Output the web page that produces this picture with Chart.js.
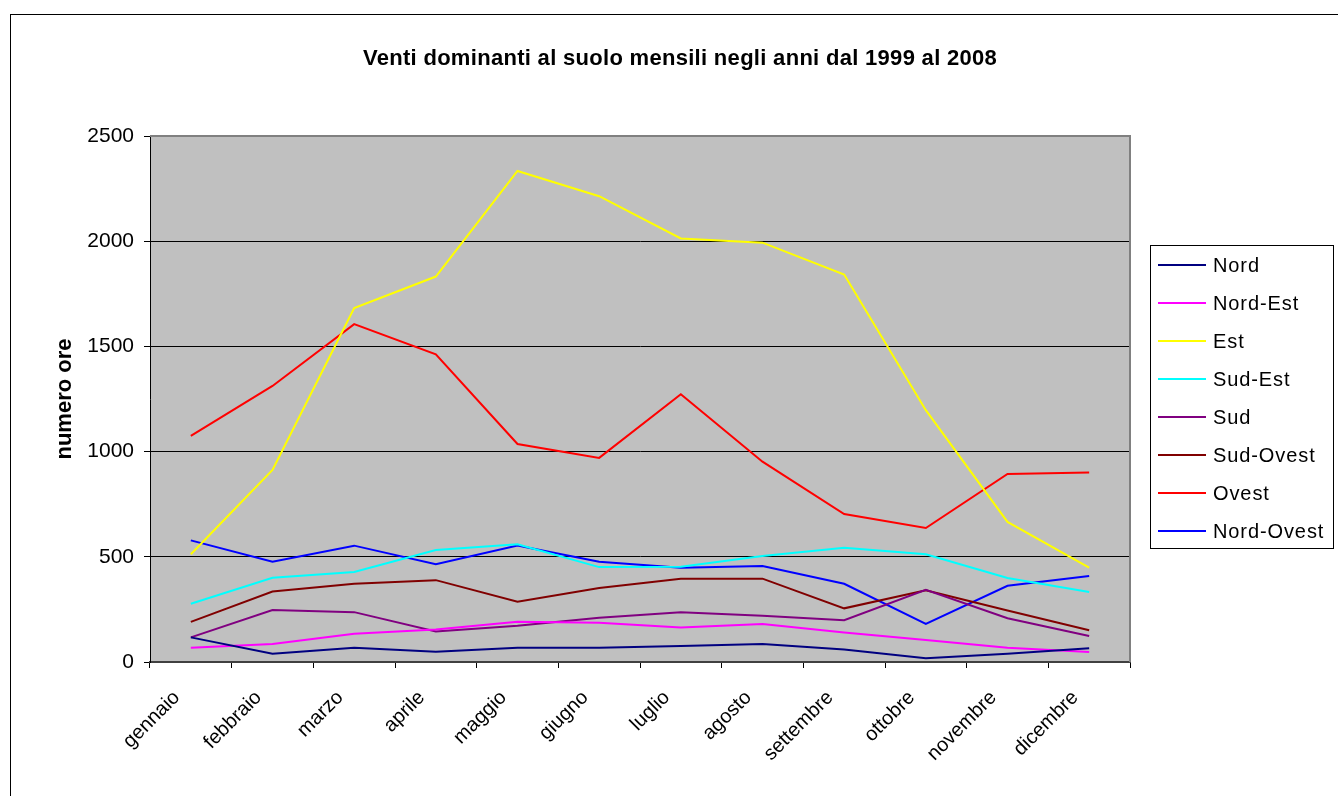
<!DOCTYPE html>
<html>
<head>
<meta charset="utf-8">
<script src="https://cdn.jsdelivr.net/npm/chart.js@4/dist/chart.umd.min.js"></script>
<style>
  html, body { margin: 0; padding: 0; background: #ffffff; }
  #wrap { position: relative; width: 1338px; height: 796px; }
</style>
</head>
<body>
<div id="wrap"><canvas id="c" width="1338" height="796"></canvas></div>
<script>
const chartTitle = "Venti dominanti al suolo mensili negli anni dal 1999 al 2008";
const yAxisTitle = "numero ore";
const months = ["gennaio","febbraio","marzo","aprile","maggio","giugno","luglio","agosto","settembre","ottobre","novembre","dicembre"];
const yTicks = [0, 500, 1000, 1500, 2000, 2500];

const seriesNames = ["Nord","Nord-Est","Est","Sud-Est","Sud","Sud-Ovest","Ovest","Nord-Ovest"];
const nord      = [117, 39, 68, 49, 68, 68, 76, 86, 59, 18, 39, 65];
const nordEst   = [68, 86, 134, 154, 191, 186, 164, 181, 140, 105, 68, 47];
const est       = [512, 913, 1682, 1832, 2334, 2214, 2013, 1993, 1842, 1197, 666, 448];
const sudEst    = [277, 400, 428, 532, 560, 451, 453, 504, 543, 512, 399, 333];
const sud       = [117, 247, 237, 145, 172, 210, 237, 220, 199, 343, 208, 124];
const sudOvest  = [191, 335, 372, 389, 286, 352, 396, 396, 255, 341, 245, 151];
const ovest     = [1075, 1312, 1606, 1462, 1036, 970, 1273, 952, 703, 637, 894, 901];
const nordOvest = [578, 477, 553, 465, 554, 477, 448, 456, 372, 181, 362, 409];

const seriesValues = [nord, nordEst, est, sudEst, sud, sudOvest, ovest, nordOvest];
const seriesColors = ["#000080","#FF00FF","#FFFF00","#00FFFF","#800080","#800000","#FF0000","#0000FF"];

const FONT = "'Liberation Sans', Arial, sans-serif";

const decor = {
  id: 'decor',
  beforeDraw(chart) {
    const ctx = chart.ctx, a = chart.chartArea;
    ctx.save();
    ctx.fillStyle = '#ffffff';
    ctx.fillRect(0, 0, chart.width, chart.height);
    ctx.fillStyle = '#C0C0C0';
    ctx.fillRect(a.left, a.top, a.right - a.left, a.bottom - a.top);
    ctx.strokeStyle = '#000000';
    ctx.lineWidth = 1;
    ctx.strokeRect(10.5, 14.5, 1400, 900);
    ctx.fillStyle = '#000000';
    ctx.font = 'bold 22px ' + FONT;
    try { ctx.letterSpacing = '0.3px'; } catch (e) {}
    ctx.textAlign = 'center';
    ctx.textBaseline = 'middle';
    ctx.fillText(chartTitle, 680, 59);
    ctx.restore();
  },
  afterDraw(chart) {
    const ctx = chart.ctx, a = chart.chartArea;
    ctx.save();
    ctx.strokeStyle = '#808080';
    ctx.lineWidth = 2;
    ctx.beginPath();
    ctx.moveTo(a.left, a.top);
    ctx.lineTo(a.right, a.top);
    ctx.lineTo(a.right, a.bottom);
    ctx.stroke();
    const lx = 1150, ly = 245, lw = 183, lh = 303;
    ctx.fillStyle = '#ffffff';
    ctx.fillRect(lx, ly, lw, lh);
    ctx.strokeStyle = '#000000';
    ctx.lineWidth = 1;
    ctx.strokeRect(lx + 0.5, ly + 0.5, lw, lh);
    ctx.font = '20px ' + FONT;
    try { ctx.letterSpacing = '0.9px'; } catch (e) {}
    ctx.textAlign = 'left';
    ctx.textBaseline = 'middle';
    chart.data.datasets.forEach((ds, i) => {
      const y = 265 + i * 38;
      ctx.strokeStyle = ds.borderColor;
      ctx.lineWidth = 2;
      ctx.beginPath();
      ctx.moveTo(1158, y);
      ctx.lineTo(1206, y);
      ctx.stroke();
      ctx.fillStyle = '#000000';
      ctx.fillText(ds.label, 1213, y + 1);
    });
    ctx.restore();
  }
};

new Chart(document.getElementById('c'), {
  type: 'line',
  data: {
    labels: months,
    datasets: seriesNames.map((n, i) => ({
      label: n,
      data: seriesValues[i],
      borderColor: seriesColors[i],
      backgroundColor: seriesColors[i],
      borderWidth: 2,
      pointRadius: 0,
      tension: 0,
      fill: false
    }))
  },
  options: {
    responsive: false,
    animation: false,
    devicePixelRatio: 1,
    layout: { padding: { left: 48, top: 136, right: 208, bottom: 0 } },
    plugins: {
      legend: { display: false },
      title: { display: false },
      tooltip: { enabled: false }
    },
    scales: {
      x: {
        offset: true,
        afterFit(s) { s.height = 134; },
        grid: { display: true, drawOnChartArea: false, drawTicks: true, tickLength: 6, offset: true, color: '#000000' },
        border: { display: true, color: '#404040', width: 2 },
        ticks: {
          color: '#000000',
          font: { family: FONT, size: 20 },
          maxRotation: 45, minRotation: 45,
          autoSkip: false,
          padding: 18,
          labelOffset: -14
        }
      },
      y: {
        min: 0, max: 2500,
        afterFit(s) { s.width = 102; },
        afterBuildTicks(s) { s.ticks = yTicks.map(v => ({ value: v })); },
        grid: { color: '#000000', lineWidth: 1, tickLength: 6, drawTicks: true },
        border: { display: true, color: '#000000', width: 1 },
        ticks: {
          color: '#000000',
          font: { family: FONT, size: 21 },
          padding: 10,
          callback: (v) => String(v)
        },
        title: {
          display: true,
          text: yAxisTitle,
          color: '#000000',
          font: { family: FONT, size: 22, weight: 'bold' },
          padding: { top: 4, bottom: 4 }
        }
      }
    }
  },
  plugins: [decor]
});
</script>
</body>
</html>
